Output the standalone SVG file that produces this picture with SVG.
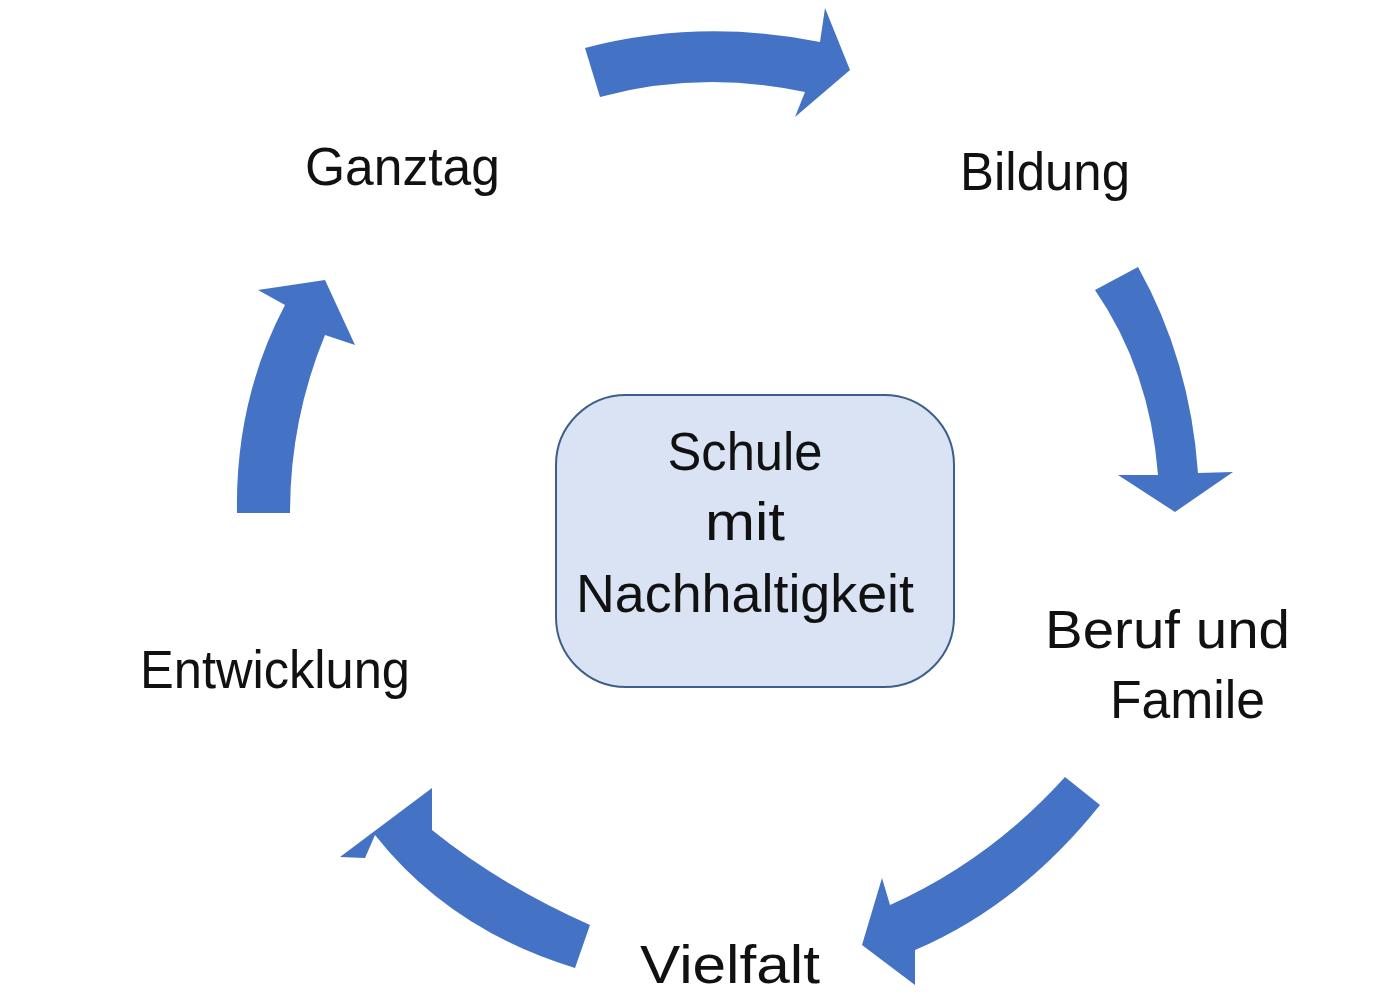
<svg xmlns="http://www.w3.org/2000/svg" width="1400" height="1000" viewBox="0 0 1400 1000">
<style>
.a{fill:#4472C4}
.t{font-family:"Liberation Sans",Arial,sans-serif;font-size:54px;fill:#111}
</style>
<rect width="1400" height="1000" fill="#fff"/>
<g id="connectors">
<path class="a" d="M585,48 Q700,18 820,42 L825,8 L850,70 L795,117 L805,92 Q700,70 600,97 Z"/>
<path class="a" d="M1138,267 Q1190,360 1198,473 L1233,472 L1175,512 L1118,475 L1158,475 Q1150,370 1095,290 Z"/>
<path class="a" d="M1100,805 Q1020,905 915,950 L915,985 L862,945 L882,878 L890,905 Q990,860 1065,777 Z"/>
<path class="a" d="M590,925 Q500,885 432,830 L432,788 L340,857 L365,858 L375,835 Q450,930 575,968 Z"/>
<path class="a" d="M237,513 Q235,400 285,305 L258,290 L325,280 L355,345 L325,335 Q290,420 290,513 Z"/>
</g>
<g id="center">
<rect x="556" y="395" width="398" height="292" rx="70" fill="#DAE3F3" stroke="#3E5F8A" stroke-width="2"/>
<text class="t" x="745" y="470" text-anchor="middle" textLength="155" lengthAdjust="spacingAndGlyphs">Schule</text>
<text class="t" x="745" y="540" text-anchor="middle" textLength="80" lengthAdjust="spacingAndGlyphs">mit</text>
<text class="t" x="745" y="612" text-anchor="middle" textLength="338" lengthAdjust="spacingAndGlyphs">Nachhaltigkeit</text>
</g>
<g id="ganztag"><text class="t" x="305" y="185" textLength="195" lengthAdjust="spacingAndGlyphs">Ganztag</text></g>
<g id="bildung"><text class="t" x="960" y="190" textLength="170" lengthAdjust="spacingAndGlyphs">Bildung</text></g>
<g id="beruf"><text class="t" x="1045" y="648" textLength="245" lengthAdjust="spacingAndGlyphs">Beruf  und</text>
<text class="t" x="1110" y="718" textLength="155" lengthAdjust="spacingAndGlyphs">Famile</text></g>
<g id="vielfalt"><text class="t" x="640" y="983" textLength="180" lengthAdjust="spacingAndGlyphs">Vielfalt</text></g>
<g id="entwicklung"><text class="t" x="140" y="688" textLength="270" lengthAdjust="spacingAndGlyphs">Entwicklung</text></g>
</svg>
